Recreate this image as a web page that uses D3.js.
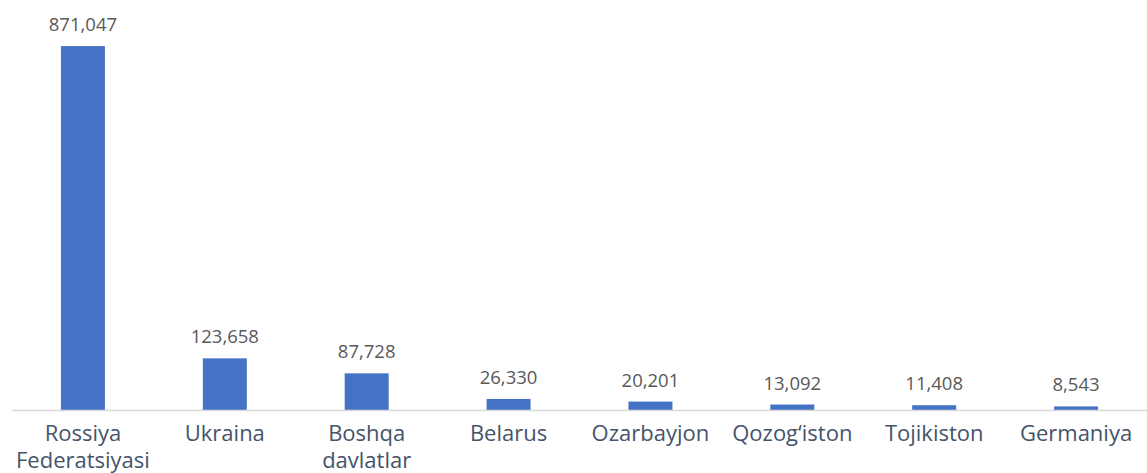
<!DOCTYPE html>
<html>
<head>
<meta charset="utf-8">
<script src="https://cdn.jsdelivr.net/npm/d3@7"></script>
<style>
  html, body { margin: 0; padding: 0; background: #fff; }
  svg { display: block; }
</style>
</head>
<body>
<svg id="chart" width="1147" height="473"></svg>
<script>
const categories = ["Rossiya Federatsiyasi", "Ukraina", "Boshqa davlatlar", "Belarus", "Ozarbayjon", "Qozog\u2018iston", "Tojikiston", "Germaniya"];
const values = [871047, 123658, 87728, 26330, 20201, 13092, 11408, 8543];

const svg = d3.select("#chart");
const baseY = 410;

const x = d3.scaleBand().domain(categories).range([12, 1147]).paddingInner(0.69).paddingOuter(0.345);
const y = d3.scaleLinear().domain([0, 900000]).range([baseY, 34]);

const data = categories.map((c, i) => ({ c, v: values[i] }));

svg.selectAll("rect.bar").data(data).enter().append("rect")
  .attr("class", "bar")
  .attr("x", d => x(d.c))
  .attr("width", x.bandwidth())
  .attr("y", d => y(d.v))
  .attr("height", d => y(0) - y(d.v))
  .attr("fill", "#4472c4");

const xAxis = d3.axisBottom(x).tickSize(0).tickFormat("");
const gx = svg.append("g").attr("transform", `translate(0,${baseY})`).call(xAxis);
gx.select(".domain").attr("stroke", "#d9d9d9").attr("stroke-width", 1.5);

const fmt = d3.format(",");
svg.selectAll("text.val").data(data).enter().append("text")
  .attr("class", "val")
  .attr("x", d => x(d.c) + x.bandwidth() / 2)
  .attr("y", d => y(d.v) - 15)
  .attr("text-anchor", "middle")
  .attr("font-family", "'Open Sans', sans-serif")
  .attr("font-size", 18.5)
  .attr("fill", "#595959")
  .text(d => fmt(d.v));

const labels = svg.selectAll("text.cat").data(data).enter().append("text")
  .attr("class", "cat")
  .attr("x", d => x(d.c) + x.bandwidth() / 2)
  .attr("y", 441)
  .attr("text-anchor", "middle")
  .attr("font-family", "'Open Sans', sans-serif")
  .attr("font-size", 22)
  .attr("fill", "#44546a");
labels.each(function(d) {
  const words = d.c.split(" ");
  const t = d3.select(this);
  words.forEach((w, i) => {
    t.append("tspan").attr("x", x(d.c) + x.bandwidth() / 2).attr("dy", i === 0 ? 0 : 27).text(w);
  });
});
</script>
</body>
</html>
